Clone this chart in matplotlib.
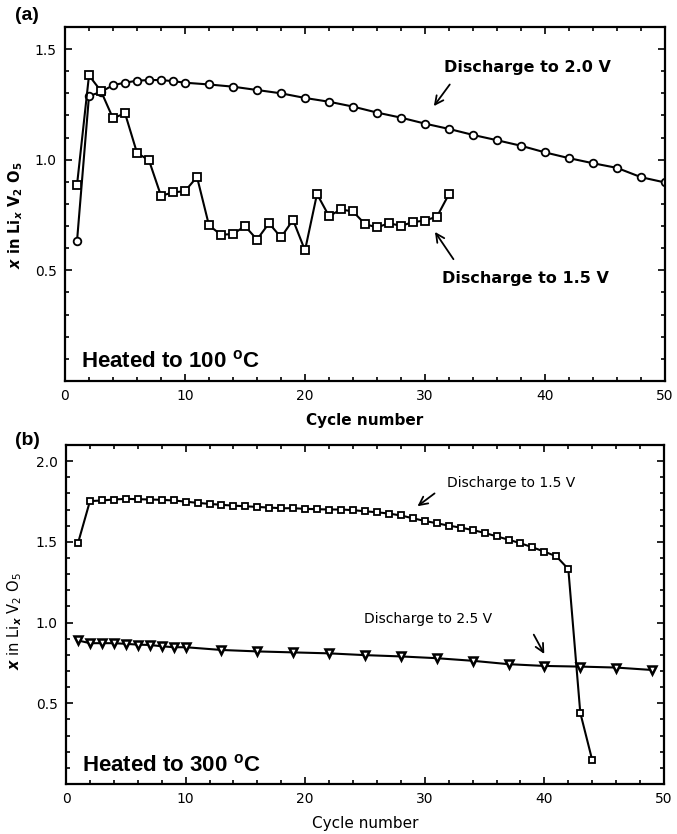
import matplotlib
matplotlib.use("Agg")
import matplotlib.pyplot as plt
from matplotlib.ticker import MultipleLocator, FuncFormatter

plt.rcParams["font.family"] = ["DejaVu Sans"]
plt.rcParams["mathtext.fontset"] = "custom"
plt.rcParams["mathtext.rm"] = "DejaVu Sans"
plt.rcParams["mathtext.it"] = "DejaVu Sans:italic:bold"
plt.rcParams["mathtext.default"] = "regular"

# panel (a): heated to 100 C
a_cycles_20v = [1, 2, 3, 4, 5, 6, 7, 8, 9, 10, 12, 14, 16, 18, 20, 22, 24,
                26, 28, 30, 32, 34, 36, 38, 40, 42, 44, 46, 48, 50]
a_x_20v = [0.631, 1.288, 1.306, 1.337, 1.348, 1.357, 1.360, 1.360, 1.355, 1.348,
           1.340, 1.330, 1.315, 1.300, 1.279, 1.262, 1.240, 1.213, 1.190, 1.163,
           1.139, 1.112, 1.088, 1.063, 1.033, 1.007, 0.984, 0.963, 0.921, 0.897]
a_cycles_15v = list(range(1, 33))
a_x_15v = [0.885, 1.381, 1.310, 1.187, 1.210, 1.031, 0.997, 0.837, 0.852, 0.858,
           0.922, 0.703, 0.661, 0.664, 0.700, 0.639, 0.713, 0.649, 0.728, 0.590,
           0.845, 0.745, 0.775, 0.766, 0.709, 0.694, 0.713, 0.701, 0.718, 0.725,
           0.743, 0.845]

# panel (b): heated to 300 C
b_cycles_15v = list(range(1, 45))
b_x_15v = [1.491, 1.752, 1.756, 1.762, 1.766, 1.764, 1.762, 1.760, 1.756, 1.749,
           1.741, 1.735, 1.729, 1.724, 1.720, 1.716, 1.712, 1.708, 1.708, 1.704,
           1.702, 1.700, 1.700, 1.696, 1.689, 1.683, 1.675, 1.663, 1.646, 1.629,
           1.615, 1.600, 1.588, 1.573, 1.555, 1.534, 1.513, 1.491, 1.466, 1.439,
           1.410, 1.331, 0.441, 0.147]
b_cycles_25v = [1, 2, 3, 4, 5, 6, 7, 8, 9, 10, 13, 16, 19, 22, 25, 28, 31, 34,
                37, 40, 43, 46, 49]
b_x_25v = [0.889, 0.872, 0.872, 0.872, 0.868, 0.863, 0.861, 0.853, 0.847, 0.847,
           0.830, 0.821, 0.815, 0.809, 0.798, 0.790, 0.779, 0.763, 0.742, 0.731,
           0.727, 0.721, 0.706]

y_label = r"$\mathit{x}$ in Li$_\mathit{x}$ V$_2$ O$_5$"


def style_axes(ax, ymax, bold):
    """Box axes with inward ticks on every side."""
    ax.set_xlim(0, 50)
    ax.set_ylim(0, ymax)
    ax.xaxis.set_major_locator(MultipleLocator(10))
    ax.xaxis.set_minor_locator(MultipleLocator(2))
    ax.yaxis.set_major_locator(MultipleLocator(0.5))
    ax.yaxis.set_minor_locator(MultipleLocator(0.1))
    ax.tick_params(which="both", direction="in", top=True, right=True,
                   width=1.2, labelsize=10)
    ax.tick_params(which="major", length=5, pad=6)
    ax.tick_params(which="minor", length=3)
    ax.yaxis.set_major_formatter(
        FuncFormatter(lambda v, p: "" if v == 0 else f"{v:.1f}"))
    for sp in ax.spines.values():
        sp.set_linewidth(1.6)
    w = "bold" if bold else "normal"
    ax.set_xlabel("Cycle number", fontsize=11, fontweight=w, labelpad=7)
    ax.set_ylabel(y_label, fontsize=10.5, fontweight=w)


def arrow(ax, tail, tip):
    ax.annotate("", xy=tip, xytext=tail,
                arrowprops=dict(arrowstyle="->,head_length=0.6,head_width=0.3",
                                color="black", lw=1.3))


fig = plt.figure(figsize=(6.77, 8.34), dpi=100)

# ---- (a)
ax_a = fig.add_axes([0.0960, 0.5432, 0.8863, 0.4245])
ax_a.plot(a_cycles_20v, a_x_20v, color="black", lw=1.5, marker="o", ms=5.5,
          mfc="white", mec="black", mew=1.3)
ax_a.plot(a_cycles_15v, a_x_15v, color="black", lw=1.5, marker="s", ms=5.5,
          mfc="white", mec="black", mew=1.3)
style_axes(ax_a, 1.6, bold=True)
ax_a.yaxis.set_label_coords(-0.066, 0.469)
ax_a.text(38.5, 1.415, "Discharge to 2.0 V", fontsize=11.5, fontweight="bold",
          ha="center", va="center")
arrow(ax_a, (32.2, 1.35), (30.6, 1.232))
ax_a.text(38.4, 0.465, "Discharge to 1.5 V", fontsize=11.5, fontweight="bold",
          ha="center", va="center")
arrow(ax_a, (32.5, 0.54), (30.7, 0.684))
ax_a.text(1.3, 0.09, r"Heated to 100 $^\mathregular{o}$C", fontsize=16,
          family="Liberation Sans", fontweight="bold", ha="left", va="center")
fig.text(27 / 677, 1 - 15 / 834, "(a)", fontsize=14, fontweight="bold",
         family="Liberation Sans", ha="center", va="center")

# ---- (b)
ax_b = fig.add_axes([0.0975, 0.0600, 0.8833, 0.4065])
ax_b.plot(b_cycles_15v, b_x_15v, color="black", lw=1.5, marker="s", ms=4.5,
          mfc="white", mec="black", mew=1.3)
ax_b.plot(b_cycles_25v, b_x_25v, color="black", lw=1.5, marker="v", ms=6,
          mfc="white", mec="black", mew=1.8)
style_axes(ax_b, 2.1, bold=False)
ax_b.yaxis.set_label_coords(-0.071, 0.481)
ax_b.text(37.2, 1.865, "Discharge to 1.5 V", fontsize=10,
          ha="center", va="center")
arrow(ax_b, (31.0, 1.81), (29.2, 1.71))
ax_b.text(30.3, 1.02, "Discharge to 2.5 V", fontsize=10,
          ha="center", va="center")
arrow(ax_b, (39.0, 0.94), (40.1, 0.79))
ax_b.text(1.3, 0.117, r"Heated to 300 $^\mathregular{o}$C", fontsize=16,
          family="Liberation Sans", fontweight="bold", ha="left", va="center")
fig.text(27 / 677, 1 - 440 / 834, "(b)", fontsize=14, fontweight="bold",
         family="Liberation Sans", ha="center", va="center")

fig.savefig("out.png", dpi=100)
plt.close(fig)
